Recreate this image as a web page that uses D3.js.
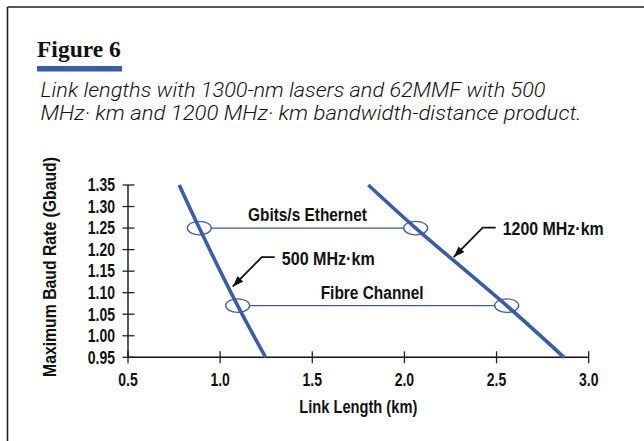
<!DOCTYPE html>
<html>
<head>
<meta charset="utf-8">
<script src="https://cdn.jsdelivr.net/npm/d3@7"></script>
<style>
  html, body { margin: 0; padding: 0; background: #fff; }
  svg { display: block; }
</style>
</head>
<body>
<svg id="chart" width="644" height="441"></svg>
<script>
// ---------- data ----------
const titleText = "Figure 6";
const subtitleLines = [
  "Link lengths with 1300-nm lasers and 62MMF with 500",
  "MHz· km and 1200 MHz· km bandwidth-distance product."
];
const xTicks = [0.5, 1.0, 1.5, 2.0, 2.5, 3.0];
const yTicks = [0.95, 1.00, 1.05, 1.10, 1.15, 1.20, 1.25, 1.30, 1.35];
const xTitle = "Link Length (km)";
const yTitle = "Maximum Baud Rate (Gbaud)";

// curve points (baud rate vs link length)
const baudRates = [1.35, 1.25, 1.07, 0.95];
const length500 = [0.778, 0.887, 1.095, 1.247];
const length1200 = [1.804, 2.061, 2.555, 2.866];

// standards (horizontal markers)
const standardNames = ["Gbits/s Ethernet", "Fibre Channel"];
const standardRates = [1.25, 1.07];
const standardLen500 = [0.887, 1.095];
const standardLen1200 = [2.061, 2.555];

// curve labels with arrow tips (on curve)
const curveLabels = ["500 MHz\u00B7km", "1200 MHz\u00B7km"];
const arrowTipLen = [1.063, 2.262];
const arrowTipRate = [1.114, 1.1826];

// ---------- style ----------
const BLUE = "#3b5ca6";
const FS = 17.5;
const condense = 0.8;
const sansBold = "'Liberation Sans', Arial, sans-serif";

const svg = d3.select("#chart");

// frame (top and left rules)
svg.append("line").attr("x1", 7.5).attr("x2", 644).attr("y1", 7).attr("y2", 7)
  .attr("stroke", "#222").attr("stroke-width", 1.6);
svg.append("line").attr("x1", 7.5).attr("x2", 7.5).attr("y1", 7).attr("y2", 441)
  .attr("stroke", "#222").attr("stroke-width", 1.6);

// title
svg.append("text").attr("x", 37).attr("y", 56.7)
  .attr("font-family", "'Liberation Serif', 'Times New Roman', serif")
  .attr("font-weight", "bold").attr("font-size", 23.5).attr("fill", "#111")
  .text(titleText);
svg.append("rect").attr("x", 37).attr("y", 66).attr("width", 85).attr("height", 5.5)
  .attr("fill", BLUE);

// subtitle
const subWidths = [505, 541];
svg.selectAll("text.sub").data(subtitleLines).join("text")
  .attr("class", "sub")
  .attr("x", 40.5).attr("y", (d, i) => 96.7 + i * 23.3)
  .attr("font-family", "Roboto, 'Liberation Sans', sans-serif")
  .attr("font-weight", 300).attr("font-style", "italic")
  .attr("font-size", 19.5).attr("fill", "#111")
  .attr("textLength", (d, i) => subWidths[i])
  .attr("lengthAdjust", "spacingAndGlyphs")
  .text(d => d);

// scales
const x = d3.scaleLinear().domain([0.5, 3.0]).range([128, 588.7]);
const y = d3.scaleLinear().domain([0.95, 1.35]).range([357.3, 185]);

function squeeze(sel) {
  sel.each(function () {
    const w = this.getComputedTextLength();
    d3.select(this).attr("textLength", w * condense).attr("lengthAdjust", "spacingAndGlyphs");
  });
}
function boldText(sel) {
  return sel.attr("font-family", sansBold).attr("font-weight", "bold")
    .attr("font-size", FS).attr("fill", "#111");
}

// x axis
const gx = svg.append("g").attr("transform", `translate(0,${y(0.95)})`);
gx.append("line").attr("x1", x(0.5)).attr("x2", x(3.0)).attr("stroke", "#111").attr("stroke-width", 1.4);
const xt = gx.selectAll("g.tick").data(xTicks).join("g").attr("transform", d => `translate(${x(d)},0)`);
xt.append("line").attr("y1", -6).attr("y2", 6).attr("stroke", "#222").attr("stroke-width", 1.3);
xt.append("text").attr("y", 28.6).attr("text-anchor", "middle").call(boldText)
  .text(d => d3.format(".1f")(d)).call(squeeze);

// y axis
const gy = svg.append("g").attr("transform", `translate(${x(0.5)},0)`);
gy.append("line").attr("y1", y(0.95)).attr("y2", y(1.35)).attr("stroke", "#111").attr("stroke-width", 1.4);
const yt = gy.selectAll("g.tick").data(yTicks).join("g").attr("transform", d => `translate(0,${y(d)})`);
yt.append("line").attr("x1", -5.5).attr("x2", 6.5).attr("stroke", "#222").attr("stroke-width", 1.3);
yt.append("text").attr("x", -13).attr("dy", "0.36em").attr("text-anchor", "end").call(boldText)
  .text(d => d3.format(".2f")(d)).call(squeeze);

// axis titles
svg.append("text").attr("x", 358.3).attr("y", 413).attr("text-anchor", "middle").call(boldText)
  .text(xTitle).attr("textLength", 118).attr("lengthAdjust", "spacingAndGlyphs");
svg.append("text").attr("transform", "translate(56,267) rotate(-90)").attr("text-anchor", "middle").call(boldText)
  .text(yTitle).attr("textLength", 220).attr("lengthAdjust", "spacingAndGlyphs");

// curves
const line = d3.line().x(d => x(d[0])).y(d => y(d[1])).curve(d3.curveCatmullRom.alpha(0.5));
[length500, length1200].forEach(arr => {
  svg.append("path")
    .attr("d", line(arr.map((v, i) => [v, baudRates[i]])))
    .attr("fill", "none").attr("stroke", BLUE).attr("stroke-width", 3.6);
});

// standards: ellipses and connecting lines
const RX = 12, RY = 6.8;
const standardWidths = [119, 103];
standardNames.forEach((name, i) => {
  const yy = y(standardRates[i]);
  const x1 = x(standardLen500[i]), x2 = x(standardLen1200[i]);
  svg.append("line").attr("x1", x1 + RX).attr("x2", x2 - RX).attr("y1", yy).attr("y2", yy)
    .attr("stroke", BLUE).attr("stroke-width", 1.2);
  [x1, x2].forEach(cx => {
    svg.append("ellipse").attr("cx", cx).attr("cy", yy).attr("rx", RX).attr("ry", RY)
      .attr("fill", "none").attr("stroke", BLUE).attr("stroke-width", 1.3);
  });
  svg.append("text").attr("x", (x1 + x2) / 2).attr("y", yy - 7).attr("text-anchor", "middle").call(boldText)
    .text(name).attr("textLength", standardWidths[i]).attr("lengthAdjust", "spacingAndGlyphs");
});

// arrow annotations
svg.append("defs").append("marker")
  .attr("id", "ah").attr("markerUnits", "userSpaceOnUse")
  .attr("markerWidth", 14).attr("markerHeight", 12)
  .attr("refX", 11).attr("refY", 4).attr("orient", "auto")
  .append("path").attr("d", "M0,0 L11,4 L0,8 Z").attr("fill", "#111");

const curveLabelWidths = [93, 101];
curveLabels.forEach((lab, i) => {
  const tx = x(arrowTipLen[i]), ty = y(arrowTipRate[i]);
  svg.append("path")
    .attr("d", `M${tx + 43},${ty - 29.5} L${tx + 30},${ty - 29.5} L${tx + 1},${ty}`)
    .attr("fill", "none").attr("stroke", "#111").attr("stroke-width", 1.8)
    .attr("marker-end", "url(#ah)");
  svg.append("text").attr("x", tx + 50).attr("y", ty - 22).call(boldText)
    .text(lab).attr("textLength", curveLabelWidths[i]).attr("lengthAdjust", "spacingAndGlyphs");
});
</script>
</body>
</html>
